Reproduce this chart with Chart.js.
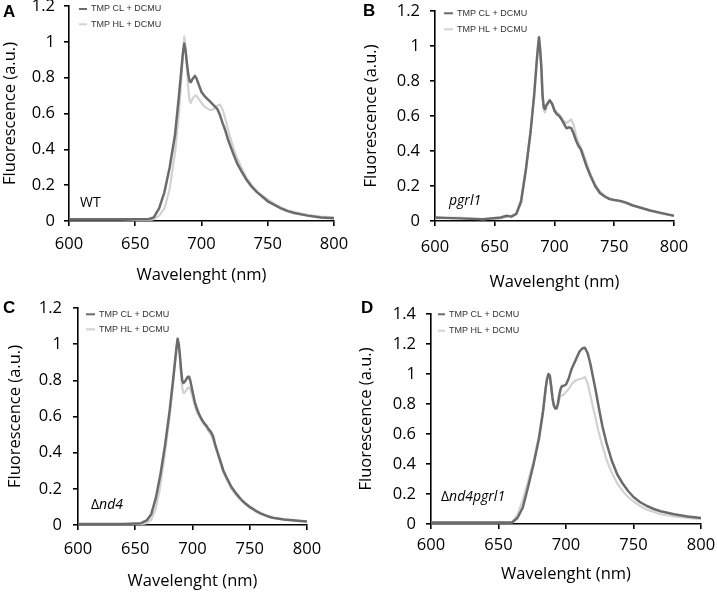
<!DOCTYPE html>
<html>
<head>
<meta charset="utf-8">
<script src="https://cdn.jsdelivr.net/npm/chart.js@4.4.0/dist/chart.umd.min.js"></script>
<style>
    html, body { margin: 0; padding: 0; background: #fff; }
    #wrap { position: relative; width: 717px; height: 592px; overflow: hidden; }
    #wrap canvas { position: absolute; left: 0; top: 0; }
    .tag { position: absolute; font: bold 17px 'Liberation Sans', Arial, sans-serif; line-height: 1; color: #000; }
    .strain { position: absolute; font: 14px 'Open Sans', sans-serif; line-height: 1; color: #000; }
</style>
</head>
<body>
<div id="wrap">
    <canvas id="chartA" width="717" height="592"></canvas>
    <canvas id="chartB" width="717" height="592"></canvas>
    <canvas id="chartC" width="717" height="592"></canvas>
    <canvas id="chartD" width="717" height="592"></canvas>
    <div class="tag" style="left:3px; top:3px;">A</div>
    <div class="tag" style="left:363px; top:2px;">B</div>
    <div class="tag" style="left:3px; top:299px;">C</div>
    <div class="tag" style="left:361px; top:299px;">D</div>
    <div class="strain" style="left:80px; top:195px;">WT</div>
    <div class="strain" style="left:449px; top:193px;"><i>pgrl1</i></div>
    <div class="strain" style="left:91px; top:497px;">&Delta;<i>nd4</i></div>
    <div class="strain" style="left:441px; top:489px;">&Delta;<i>nd4pgrl1</i></div>
</div>
<script>
// Wavelength grid (nm) shared by all spectra
const wavelengths = [600, 620, 640, 655, 660, 664, 668, 672, 676, 680,
    683, 685, 686, 687, 688, 689, 690, 691, 692, 693,
    694, 695, 696, 697, 698, 700, 702, 704, 706, 708,
    710, 712, 714, 716, 718, 720, 722, 724, 727, 730,
    734, 738, 742, 746, 750, 755, 760, 765, 770, 780,
    790, 800];

const seriesNames = ['TMP CL + DCMU', 'TMP HL + DCMU'];

// A - WT
const wtCL = [0.01, 0.01, 0.01, 0.01, 0.01, 0.02, 0.07, 0.16, 0.30, 0.48,
    0.70, 0.86, 0.94, 0.99, 0.95, 0.88, 0.82, 0.78, 0.775, 0.79,
    0.80, 0.81, 0.80, 0.78, 0.76, 0.72, 0.70, 0.685, 0.67, 0.655,
    0.64, 0.625, 0.59, 0.545, 0.505, 0.455, 0.415, 0.375, 0.32, 0.28,
    0.23, 0.19, 0.16, 0.135, 0.11, 0.09, 0.07, 0.055, 0.045, 0.03,
    0.02, 0.015];
const wtHL = [0.01, 0.01, 0.01, 0.005, 0.005, 0.01, 0.03, 0.07, 0.18, 0.38,
    0.60, 0.82, 0.93, 1.03, 0.97, 0.86, 0.74, 0.67, 0.66, 0.68,
    0.69, 0.70, 0.70, 0.69, 0.68, 0.66, 0.64, 0.63, 0.62, 0.62,
    0.63, 0.645, 0.65, 0.62, 0.57, 0.51, 0.46, 0.41, 0.35, 0.30,
    0.24, 0.20, 0.165, 0.14, 0.12, 0.095, 0.075, 0.06, 0.05, 0.035,
    0.025, 0.02];

// B - pgrl1
const pgrCL = [0.02, 0.015, 0.01, 0.02, 0.03, 0.025, 0.04, 0.11, 0.29, 0.51,
    0.72, 0.90, 0.98, 1.05, 0.98, 0.88, 0.72, 0.65, 0.64, 0.66,
    0.67, 0.68, 0.69, 0.68, 0.67, 0.63, 0.61, 0.60, 0.58, 0.555,
    0.53, 0.535, 0.53, 0.50, 0.46, 0.43, 0.41, 0.37, 0.31, 0.26,
    0.20, 0.16, 0.14, 0.125, 0.12, 0.115, 0.105, 0.09, 0.08, 0.06,
    0.045, 0.03];
const pgrHL = [0.015, 0.02, 0.01, 0.015, 0.025, 0.03, 0.045, 0.12, 0.30, 0.52,
    0.73, 0.91, 0.99, 1.04, 0.97, 0.86, 0.70, 0.63, 0.62, 0.64,
    0.66, 0.67, 0.68, 0.68, 0.67, 0.64, 0.62, 0.61, 0.59, 0.57,
    0.56, 0.57, 0.58, 0.55, 0.49, 0.45, 0.42, 0.39, 0.33, 0.27,
    0.21, 0.17, 0.145, 0.13, 0.12, 0.11, 0.10, 0.09, 0.08, 0.06,
    0.04, 0.03];

// C - delta nd4
const nd4CL = [0.005, 0.005, 0.005, 0.01, 0.025, 0.06, 0.15, 0.28, 0.44, 0.63,
    0.80, 0.92, 0.98, 1.03, 1.00, 0.94, 0.86, 0.80, 0.785, 0.79,
    0.80, 0.81, 0.82, 0.82, 0.80, 0.74, 0.68, 0.64, 0.61, 0.585,
    0.565, 0.55, 0.53, 0.515, 0.49, 0.44, 0.40, 0.36, 0.30, 0.26,
    0.21, 0.175, 0.145, 0.12, 0.10, 0.08, 0.063, 0.05, 0.04, 0.03,
    0.025, 0.02];
const nd4HL = [0.005, 0.005, 0.005, 0.005, 0.01, 0.03, 0.09, 0.22, 0.40, 0.60,
    0.78, 0.91, 0.98, 1.02, 0.99, 0.92, 0.83, 0.76, 0.73, 0.73,
    0.74, 0.75, 0.76, 0.76, 0.75, 0.71, 0.66, 0.62, 0.60, 0.575,
    0.555, 0.54, 0.52, 0.50, 0.47, 0.43, 0.39, 0.35, 0.29, 0.25,
    0.20, 0.165, 0.14, 0.115, 0.095, 0.075, 0.06, 0.048, 0.04, 0.03,
    0.022, 0.018];

// D - delta nd4 pgrl1
const dblCL = [0.01, 0.01, 0.01, 0.01, 0.01, 0.04, 0.11, 0.25, 0.40, 0.57,
    0.75, 0.91, 0.97, 1.00, 0.99, 0.92, 0.84, 0.79, 0.77, 0.77,
    0.80, 0.86, 0.90, 0.92, 0.92, 0.93, 0.97, 1.03, 1.07, 1.11,
    1.15, 1.17, 1.175, 1.14, 1.07, 0.98, 0.89, 0.79, 0.65, 0.54,
    0.42, 0.33, 0.27, 0.22, 0.18, 0.145, 0.12, 0.10, 0.085, 0.065,
    0.05, 0.04];
const dblHL = [0.01, 0.01, 0.01, 0.01, 0.01, 0.06, 0.16, 0.29, 0.42, 0.59,
    0.76, 0.90, 0.96, 0.99, 0.98, 0.91, 0.83, 0.79, 0.78, 0.78,
    0.80, 0.83, 0.85, 0.86, 0.86, 0.88, 0.90, 0.93, 0.95, 0.96,
    0.965, 0.97, 0.98, 0.94, 0.86, 0.78, 0.70, 0.62, 0.52, 0.43,
    0.34, 0.27, 0.22, 0.18, 0.15, 0.12, 0.095, 0.08, 0.065, 0.05,
    0.04, 0.032];

const xTicks = [600, 650, 700, 750, 800];

const darkGray = '#6b6b6b';
const lightGray = '#d2d2d2';
const axisFont = { family: "'Open Sans', sans-serif", size: 16.5 };

// Legend drawn inside the plot, top-left
const insideLegend = {
    id: 'insideLegend',
    afterDraw(chart, args, opts) {
        const ctx = chart.ctx;
        ctx.save();
        ctx.font = '9px "Liberation Sans", Arial, sans-serif';
        ctx.textBaseline = 'middle';
        ctx.fillStyle = '#333';
        chart.data.datasets.forEach((ds, i) => {
            const y = opts.rows[i];
            ctx.strokeStyle = ds.borderColor;
            ctx.lineWidth = 2;
            ctx.beginPath();
            ctx.moveTo(opts.x, y);
            ctx.lineTo(opts.x + opts.len, y);
            ctx.stroke();
            ctx.fillText(ds.label, opts.x + opts.len + 4, y);
        });
        ctx.restore();
    }
};

// Layout of each panel: plot-area box and label offsets (pixels)
const panels = [
    { id: 'chartA', cl: wtCL, hl: wtHL, yMax: 1.2, L: 69, R: 334, T: 6, B: 221, yLeft: 0.4, yPad: 9, xPad: 8.6, xH: 64.6,
      legend: { x: 79, len: 8, rows: [9, 24.3] } },
    { id: 'chartB', cl: pgrCL, hl: pgrHL, yMax: 1.2, L: 435, R: 674, T: 11, B: 221, yLeft: 361.4, yPad: 10, xPad: 11, xH: 71.6,
      legend: { x: 444, len: 9, rows: [13.3, 29.3] } },
    { id: 'chartC', cl: nd4CL, hl: nd4HL, yMax: 1.2, L: 78, R: 307, T: 308, B: 525, yLeft: 5.4, yPad: 11, xPad: 9, xH: 66.6,
      legend: { x: 86, len: 9, rows: [314.3, 329.3] } },
    { id: 'chartD', cl: dblCL, hl: dblHL, yMax: 1.4, L: 431, R: 701, T: 314, B: 524, yLeft: 356.4, yPad: 10, xPad: 6, xH: 60.6,
      legend: { x: 438, len: 7, rows: [314.3, 330.7] } }
];

function toPoints(values) {
    return wavelengths.map((w, i) => ({ x: w, y: values[i] }));
}

panels.forEach(p => {
    new Chart(document.getElementById(p.id), {
        type: 'line',
        data: {
            datasets: [
                { label: seriesNames[0], data: toPoints(p.cl), borderColor: darkGray, borderWidth: 2.5 },
                { label: seriesNames[1], data: toPoints(p.hl), borderColor: lightGray, borderWidth: 2.2 }
            ]
        },
        options: {
            responsive: false,
            animation: false,
            events: [],
            layout: {
                padding: { left: p.yLeft, top: p.T, right: 717 - p.R, bottom: 592 - (p.B + p.xH) }
            },
            elements: {
                point: { radius: 0 },
                line: { tension: 0, borderJoinStyle: 'round' }
            },
            scales: {
                x: {
                    type: 'linear',
                    min: 600,
                    max: 800,
                    afterBuildTicks: axis => { axis.ticks = xTicks.map(v => ({ value: v })); },
                    afterFit: axis => { axis.height = p.xH; axis.paddingLeft = 0; axis.paddingRight = 0; },
                    border: { display: true, color: '#000', width: 1.6 },
                    grid: { display: true, drawOnChartArea: false, drawTicks: true, tickLength: 5, color: '#000', lineWidth: 1.6 },
                    ticks: { color: '#000', font: axisFont, padding: p.xPad, maxRotation: 0 },
                    title: { display: true, text: 'Wavelenght (nm)', color: '#000', font: axisFont, padding: 0 }
                },
                y: {
                    min: 0,
                    max: p.yMax,
                    afterFit: axis => { axis.width = p.L - p.yLeft; axis.paddingTop = 0; axis.paddingBottom = 0; },
                    border: { display: true, color: '#000', width: 1.6 },
                    grid: { display: true, drawOnChartArea: false, drawTicks: true, tickLength: 5, color: '#000', lineWidth: 1.6 },
                    ticks: {
                        stepSize: 0.2,
                        color: '#000',
                        font: axisFont,
                        padding: p.yPad,
                        callback: v => String(Math.round(v * 10) / 10)
                    },
                    title: { display: true, text: 'Fluorescence (a.u.)', color: '#000', font: axisFont, padding: 0 }
                }
            },
            plugins: {
                legend: { display: false },
                tooltip: { enabled: false },
                insideLegend: p.legend
            }
        },
        plugins: [insideLegend]
    });
});
</script>
</body>
</html>
